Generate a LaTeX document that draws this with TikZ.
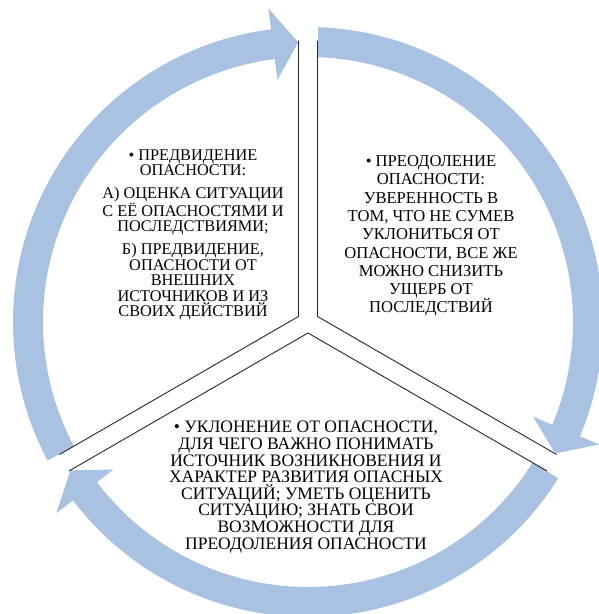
\documentclass[tikz,border=0pt]{standalone}
\usepackage{fontspec}
\setmainfont{Liberation Serif}
\definecolor{cyclefill}{RGB}{169,194,225}
\begin{document}
\begin{tikzpicture}[x=1pt, y=1pt,
    sector/.style={draw=black!85, line width=0.9pt},
    txt/.style={align=center, inner sep=0pt, font=\fontsize{16.3}{15.6}\selectfont},
    bigtxt/.style={align=center, inner sep=0pt, font=\fontsize{16.6}{18.3}\selectfont},
    widetxt/.style={align=center, inner sep=0pt, font=\fontsize{17.5}{16.6}\selectfont}]
         \useasboundingbox (-308,-292) rectangle (291,322);
         % curved arrows of the cycle
         \foreach \tail/\base/\tip in {208/97.2/92, 88/-22.8/-28, -32/-142.8/-148}
            \fill[cyclefill] (\tail:265) arc[start angle=\tail, end angle=\base, radius=265]
               -- (\base:244) -- (\tip:280) -- (\base:316) -- (\base:295)
               arc[start angle=\base, end angle=\tail, radius=295] -- cycle;
         % corners of the three sectors
         \coordinate (cL) at (150:11);
         \coordinate (cR) at (30:11);
         \coordinate (cB) at (270:11);
         \draw[sector] (cL) ++(90:276) -- (cL) -- ++(210:276);
         \draw[sector] (cR) ++(90:276) -- (cR) -- ++(-30:276);
         \draw[sector] (cB) ++(210:276) -- (cB) -- ++(-30:276);
         %nodes
         \node[txt] at (-115,87) (foresight) {\textbullet\ ПРЕДВИДЕНИЕ\\ОПАСНОСТИ:\\[7pt]
            А) ОЦЕНКА СИТУАЦИИ\\С ЕЁ ОПАСНОСТЯМИ И\\ПОСЛЕДСТВИЯМИ;\\[7pt]
            Б) ПРЕДВИДЕНИЕ,\\ОПАСНОСТИ ОТ\\ВНЕШНИХ\\ИСТОЧНИКОВ И ИЗ\\СВОИХ ДЕЙСТВИЙ};
         \node[bigtxt] at (123,86) (overcome) {\textbullet\ ПРЕОДОЛЕНИЕ\\ОПАСНОСТИ:\\
            УВЕРЕННОСТЬ В\\ТОМ, ЧТО НЕ СУМЕВ\\УКЛОНИТЬСЯ ОТ\\ОПАСНОСТИ, ВСЕ ЖЕ\\
            МОЖНО СНИЗИТЬ\\УЩЕРБ ОТ\\ПОСЛЕДСТВИЙ};
         \node[widetxt] at (-2,-165) (avoid) {\textbullet\ УКЛОНЕНИЕ ОТ ОПАСНОСТИ,\\
            ДЛЯ ЧЕГО ВАЖНО ПОНИМАТЬ\\ИСТОЧНИК ВОЗНИКНОВЕНИЯ И\\ХАРАКТЕР РАЗВИТИЯ ОПАСНЫХ\\
            СИТУАЦИЙ; УМЕТЬ ОЦЕНИТЬ\\СИТУАЦИЮ; ЗНАТЬ СВОИ\\ВОЗМОЖНОСТИ ДЛЯ\\ПРЕОДОЛЕНИЯ ОПАСНОСТИ};
\end{tikzpicture}
\end{document}
